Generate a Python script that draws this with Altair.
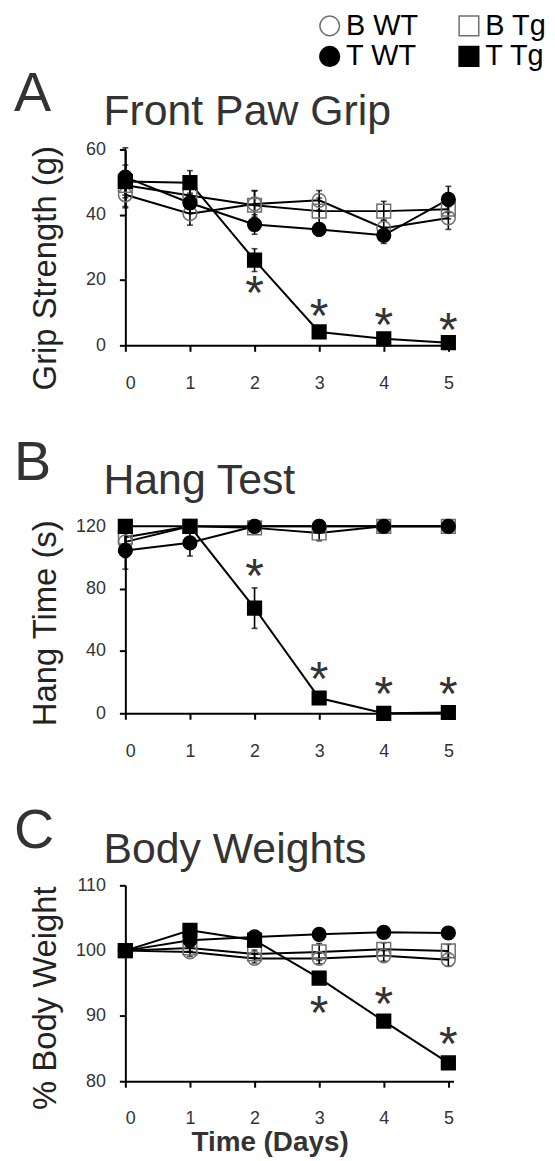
import altair as alt
import pandas as pd

FONT = "Liberation Sans"

days = [0, 1, 2, 3, 4, 5]
groups = ["B WT", "B Tg", "T WT", "T Tg"]

# Panel A - Front Paw Grip (g)
grip_b_wt = [46.1, 40.3, 43.3, 44.4, 35.9, 39.0]
grip_b_tg = [49.0, 45.9, 42.9, 41.1, 41.1, 41.7]
grip_t_wt = [51.5, 43.6, 37.0, 35.5, 33.7, 44.7]
grip_t_tg = [50.2, 49.8, 26.1, 4.1, 2.0, 0.8]
grip_e_b_wt = [4.0, 3.5, 4.0, 3.0, 2.5, 3.5]
grip_e_b_tg = [3.0, 3.0, 4.5, 4.0, 3.0, 3.0]
grip_e_t_wt = [9.0, 3.0, 3.0, 2.0, 2.5, 4.0]
grip_e_t_tg = [5.0, 3.7, 3.5, 1.0, 0.5, 0.5]
grip_star_days = [2, 3, 4, 5]
grip_star_y = [17.5, 10.4, 7.8, 6.3]

# Panel B - Hang Test (s)
hang_b_wt = [110.0, 120.0, 120.0, 120.0, 120.0, 120.0]
hang_b_tg = [113.0, 120.0, 119.0, 115.7, 120.0, 120.0]
hang_t_wt = [104.5, 109.4, 120.0, 120.0, 120.0, 120.0]
hang_t_tg = [120.0, 120.0, 67.5, 9.8, 0.0, 0.5]
hang_e_b_wt = [10.0, 0.0, 0.0, 0.0, 0.0, 0.0]
hang_e_b_tg = [8.0, 0.0, 2.0, 5.0, 0.0, 0.0]
hang_e_t_wt = [12.0, 8.5, 0.0, 0.0, 0.0, 0.0]
hang_e_t_tg = [0.0, 0.0, 13.0, 2.0, 0.0, 0.0]
hang_star_days = [2, 3, 4, 5]
hang_star_y = [91.3, 25.3, 15.7, 15.7]

# Panel C - Body Weights (%)
wt_b_wt = [100.0, 99.8, 98.8, 98.8, 99.2, 98.6]
wt_b_tg = [100.0, 100.4, 99.5, 99.8, 100.2, 99.95]
wt_t_wt = [100.0, 101.6, 102.1, 102.5, 102.8, 102.7]
wt_t_tg = [100.0, 103.1, 101.6, 95.8, 89.2, 82.8]
wt_e_b_wt = [0.0, 0.7, 0.7, 0.8, 0.8, 1.0]
wt_e_b_tg = [0.0, 0.5, 0.6, 1.3, 1.0, 1.0]
wt_e_t_wt = [0.0, 0.6, 0.3, 0.4, 0.3, 0.4]
wt_e_t_tg = [0.0, 0.5, 0.4, 0.4, 0.4, 0.5]
wt_star_days = [3, 4, 5]
wt_star_y = [91.2, 92.5, 86.4]


def make_df(means, errs):
    rows = []
    for g, m, e in zip(groups, means, errs):
        for d, v, s in zip(days, m, e):
            rows.append({"day": d, "group": g, "value": v, "err": s,
                         "lo": v - s, "hi": v + s})
    return pd.DataFrame(rows)


legend = alt.Legend(
    title=None, orient="none", legendX=191, legendY=-139, columns=2,
    direction="horizontal",
    labelFontSize=29, labelFont=FONT, labelColor="black",
    symbolSize=390, symbolStrokeWidth=1.5, columnPadding=36,
    rowPadding=1, labelOffset=2, padding=0,
)

shape_scale = alt.Scale(domain=groups, range=["circle", "square", "circle", "square"])
fill_scale = alt.Scale(domain=groups, range=["transparent", "transparent", "black", "black"])
stroke_scale = alt.Scale(domain=groups, range=["#6f6f6f", "#6f6f6f", "black", "black"])


def panel(df, star_days, star_y, letter, title, ytitle, domain, ticks, height,
          letter_y, title_y, ytitle_y, xtitle):
    stars_df = pd.DataFrame({"day": star_days, "value": star_y})
    x_axis = alt.Axis(values=days, format="d", title=xtitle if xtitle else None,
                      titleFontSize=28, titleFontWeight="bold", titleFont=FONT,
                      titleColor="#333", titleX=145, titleY=70,
                      titleBaseline="alphabetic", titleAlign="center")
    x = alt.X("day:Q", scale=alt.Scale(domain=[0, 5.08], nice=False, zero=False),
              axis=x_axis)
    y = alt.Y("value:Q", scale=alt.Scale(domain=domain, nice=False, zero=False),
              axis=alt.Axis(values=ticks, format="d", title=ytitle, titleFontSize=33,
                            titleFontWeight="normal", titleFont=FONT,
                            titleColor="#222", titleAngle=-90, titleX=-70,
                            titleY=ytitle_y, titleBaseline="alphabetic",
                            titleAlign="center"))
    base = alt.Chart(df)
    lines = base.mark_line(color="black", strokeWidth=2).encode(
        x=x, y=y, detail="group:N")
    rules = base.transform_filter("datum.err > 0").mark_rule(
        color="black", strokeWidth=1.6).encode(x="day:Q", y="lo:Q", y2="hi:Q")
    cap_lo = base.transform_filter("datum.err > 0").mark_tick(
        color="black", orient="horizontal", size=6, thickness=1.6).encode(
        x="day:Q", y="lo:Q")
    cap_hi = base.transform_filter("datum.err > 0").mark_tick(
        color="black", orient="horizontal", size=6, thickness=1.6).encode(
        x="day:Q", y="hi:Q")
    pts = base.mark_point(size=190, strokeWidth=1.5, opacity=1).encode(
        x="day:Q", y="value:Q",
        shape=alt.Shape("group:N", scale=shape_scale, legend=legend),
        fill=alt.Fill("group:N", scale=fill_scale, legend=legend),
        stroke=alt.Stroke("group:N", scale=stroke_scale, legend=legend),
        order=alt.Order("group:N"),
    )
    stars = alt.Chart(stars_df).mark_text(
        text="*", fontSize=48, font=FONT, color="#333", baseline="alphabetic",
        dy=21).encode(x="day:Q", y="value:Q")
    lab = pd.DataFrame({"letter": [letter], "title": [title]})
    let = alt.Chart(lab).mark_text(
        fontSize=56, font=FONT, color="#333", align="left",
        baseline="alphabetic").encode(
        x=alt.value(-112), y=alt.value(letter_y), text="letter:N")
    ttl = alt.Chart(lab).mark_text(
        fontSize=43, font=FONT, color="#333", align="left",
        baseline="alphabetic").encode(
        x=alt.value(-22), y=alt.value(title_y), text="title:N")
    return alt.layer(lines, rules, cap_lo, cap_hi, pts, stars, let, ttl).properties(
        width=330, height=height)


pA = panel(make_df([grip_b_wt, grip_b_tg, grip_t_wt, grip_t_tg],
                   [grip_e_b_wt, grip_e_b_tg, grip_e_t_wt, grip_e_t_tg]),
           grip_star_days, grip_star_y, "A", "Front Paw Grip",
           "Grip Strength (g)", [0, 60], [0, 20, 40, 60], 197,
           -39, -25, 119, None)
pB = panel(make_df([hang_b_wt, hang_b_tg, hang_t_wt, hang_t_tg],
                   [hang_e_b_wt, hang_e_b_tg, hang_e_t_wt, hang_e_t_tg]),
           hang_star_days, hang_star_y, "B", "Hang Test",
           "Hang Time (s)", [0, 120], [0, 40, 80, 120], 188,
           -47, -32, 97, None)
pC = panel(make_df([wt_b_wt, wt_b_tg, wt_t_wt, wt_t_tg],
                   [wt_e_b_wt, wt_e_b_tg, wt_e_t_wt, wt_e_t_tg]),
           wt_star_days, wt_star_y, "C", "Body Weights",
           "% Body Weight", [80, 110], [80, 90, 100, 110], 197,
           -38, -22, 113, "Time (Days)")

chart = alt.vconcat(pA, pB, pC, spacing=43).properties(
    padding={"left": 6, "top": 0, "right": 0, "bottom": 0}
).configure_view(stroke=None).configure_axis(
    grid=False, domainColor="black", domainWidth=2, tickColor="black",
    tickWidth=2, tickSize=6, labelFont=FONT, labelFontSize=18,
    labelColor="#333",
).configure_axisX(labelPadding=23).configure_axisY(labelPadding=14)

chart.save("out.html", embed_options={"renderer": "svg", "actions": False})
